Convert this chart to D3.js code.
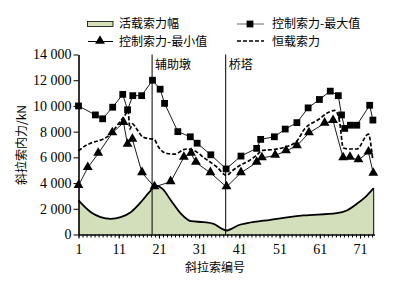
<!DOCTYPE html>
<html><head><meta charset="utf-8">
<script src="https://cdn.jsdelivr.net/npm/d3@7"></script>
<style>
html,body{margin:0;padding:0;background:#fff;}
svg{display:block;}
.num{font-family:"Liberation Serif","Times New Roman",serif;font-size:14px;}
.cjk{font-family:"Noto Sans CJK SC",sans-serif;font-size:12px;}
</style></head>
<body>
<svg id="chart" width="416" height="281"></svg>
<script>
// ---- data ----
const xTickValues = [1, 11, 21, 31, 41, 51, 61, 71];
const yTickValues = [0, 2000, 4000, 6000, 8000, 10000, 12000, 14000];

const liveCable = [1, 4, 6.5, 9, 11.5, 14, 16.5, 18.6, 20.2, 21.9, 24, 26.5, 29, 32.1, 34.6, 36.7, 37.9, 39, 40.6, 43, 48.7, 57, 65.2, 67.7, 70.2, 72.7, 74.4];
const liveValue = [2650, 1750, 1350, 1220, 1350, 1730, 2510, 3290, 3800, 3550, 2640, 1610, 1040, 960, 830, 440, 310, 440, 700, 880, 1140, 1480, 1660, 1870, 2390, 3030, 3600];

const maxCable = [1, 5.2, 7, 9.5, 12, 13.2, 14.5, 16.7, 19.4, 21.3, 22.4, 25.7, 28.8, 30.5, 33.9, 37.7, 41.4, 45.3, 46.3, 49.7, 52.4, 55.3, 58.1, 60.9, 63.6, 65.6, 66.4, 67.2, 68.6, 70.2, 73.4, 74.2];
const maxValue = [10000, 9300, 9000, 9900, 10900, 9700, 10800, 10800, 12000, 11300, 10200, 8000, 7600, 7100, 6200, 5100, 6100, 6700, 7400, 7600, 8200, 8700, 9850, 10500, 11150, 10800, 9300, 8250, 8500, 8500, 10050, 8900];

const minCable = [1, 3.3, 5.9, 9.4, 12.2, 13.2, 14.4, 16.8, 19.9, 23.9, 27.2, 29, 30.2, 33.8, 37.8, 41.4, 45.3, 46.6, 49.9, 52.6, 55.3, 58.3, 62.2, 64.3, 66.8, 68.5, 70.6, 73.1, 74.3];
const minValue = [3800, 5200, 6300, 7900, 8700, 7000, 7400, 4800, 3700, 4100, 6000, 6300, 5600, 4800, 3700, 4800, 5600, 5950, 6150, 6500, 6900, 7900, 8650, 8850, 5950, 6000, 5800, 6400, 4750];

const deadCable = [1, 2.7, 4, 7.3, 8.6, 9.8, 11.5, 12.8, 13.3, 13.8, 14.4, 15.7, 16.9, 18.6, 19.8, 20.9, 23, 25, 27.1, 28, 29.6, 32.5, 35.4, 37.8, 39.4, 41, 43.5, 45.2, 46.8, 49.3, 51.8, 55.1, 57.3, 60.5, 63.5, 64.7, 65.6, 66, 66.8, 68.3, 70.2, 73.1, 74.1];
const deadValue = [6500, 6900, 7100, 7450, 7700, 8150, 8850, 9400, 9650, 8200, 8600, 8100, 7600, 7450, 7400, 6800, 6300, 6250, 6600, 6650, 6550, 5900, 5250, 4600, 5000, 5350, 5750, 6150, 6550, 6600, 6750, 7200, 8250, 8900, 9550, 9650, 9250, 8600, 6750, 6650, 6650, 7800, 5950];

const markerLines = [{cable: 19.3, label: "辅助墩"}, {cable: 37.6, label: "桥塔"}];
const legendLabels = ["活载索力幅", "控制索力-最大值", "控制索力-最小值", "恒载索力"];
const xTitle = "斜拉索编号";
const yTitle = "斜拉索内力/kN";

// ---- drawing ----
const svg = d3.select("#chart");
svg.append("rect").attr("width", 416).attr("height", 281).attr("fill", "#fff");

const x = d3.scaleLinear().domain([1, 74.6]).range([78.5, 374.5]);
const y = d3.scaleLinear().domain([0, 14000]).range([234.5, 54.5]);

const zip = (a, b) => a.map((c, i) => [c, b[i]]);
const live = zip(liveCable, liveValue);
const maxS = zip(maxCable, maxValue);
const minS = zip(minCable, minValue);
const dead = zip(deadCable, deadValue);

// area
svg.append("path").datum(live)
  .attr("d", d3.area().x(d => x(d[0])).y0(y(0)).y1(d => y(d[1])).curve(d3.curveMonotoneX))
  .attr("fill", "#d3dfbb");
svg.append("path").datum(live)
  .attr("d", d3.line().x(d => x(d[0])).y(d => y(d[1])).curve(d3.curveMonotoneX))
  .attr("fill", "none").attr("stroke", "#000").attr("stroke-width", 1.8);
svg.append("line")
  .attr("x1", x(liveCable[liveCable.length - 1])).attr("x2", x(liveCable[liveCable.length - 1]))
  .attr("y1", y(liveValue[liveValue.length - 1])).attr("y2", y(0))
  .attr("stroke", "#000").attr("stroke-width", 1);

// vertical reference lines
markerLines.forEach(m => {
  svg.append("line").attr("x1", x(m.cable)).attr("x2", x(m.cable))
    .attr("y1", y(14000)).attr("y2", y(0)).attr("stroke", "#000").attr("stroke-width", 1);
  svg.append("text").attr("class", "cjk").attr("x", x(m.cable) + 3).attr("y", 69)
    .attr("font-size", "13.5px").text(m.label);
});

// dead load dashed
svg.append("path").datum(dead)
  .attr("d", d3.line().x(d => x(d[0])).y(d => y(d[1])).curve(d3.curveMonotoneX))
  .attr("fill", "none").attr("stroke", "#000").attr("stroke-width", 1.7)
  .attr("stroke-dasharray", "4,2");

// max / min lines
const ln = d3.line().x(d => x(d[0])).y(d => y(d[1]));
svg.append("path").datum(maxS).attr("d", ln).attr("fill", "none").attr("stroke", "#000").attr("stroke-width", 0.9);
svg.append("path").datum(minS).attr("d", ln).attr("fill", "none").attr("stroke", "#000").attr("stroke-width", 0.9);

const sq = d3.symbol().type(d3.symbolSquare).size(46);
const tri = d3.symbol().type(d3.symbolTriangle).size(42);
svg.selectAll(".sq").data(maxS).enter().append("path")
  .attr("d", sq).attr("transform", d => `translate(${x(d[0])},${y(d[1])})`).attr("fill", "#000");
svg.selectAll(".tri").data(minS).enter().append("path")
  .attr("d", tri).attr("transform", d => `translate(${x(d[0])},${y(d[1]) - 0.5})`).attr("fill", "#000");

// axes
const loc = d3.formatLocale({decimal: ".", thousands: " ", grouping: [3], currency: ["", ""]});
const fmt = loc.format(",");
const yAxis = svg.append("g").attr("transform", `translate(${x(1)},0)`)
  .call(d3.axisLeft(y).tickValues(yTickValues).tickFormat(fmt).tickSize(5).tickSizeOuter(0).tickPadding(2));
yAxis.selectAll("text").attr("class", "num").attr("fill", "#000").attr("font-size", null).attr("font-family", null);
yAxis.select(".domain").attr("stroke-width", 1.6);

const minorCables = d3.range(1, 75);
const xMinor = svg.append("g").attr("transform", `translate(0,${y(0)})`)
  .call(d3.axisBottom(x).tickValues(minorCables).tickFormat("").tickSize(3).tickSizeOuter(0));
xMinor.select(".domain").attr("stroke-width", 1.6);
const xAxis = svg.append("g").attr("transform", `translate(0,${y(0)})`)
  .call(d3.axisBottom(x).tickValues(xTickValues).tickSize(4).tickSizeOuter(0).tickPadding(6));
xAxis.select(".domain").remove();
xAxis.selectAll("text").attr("class", "num").attr("fill", "#000").attr("font-size", null).attr("font-family", null);

// axis titles
svg.append("text").attr("class", "cjk").attr("font-size", "14px")
  .attr("x", 215).attr("y", 272).attr("text-anchor", "middle").text(xTitle);
svg.append("text").attr("class", "cjk").attr("font-size", "14px")
  .attr("transform", "translate(26,145) rotate(-90)").attr("text-anchor", "middle").text(yTitle);

// legend
const lg = svg.append("g");
lg.append("rect").attr("x", 87.5).attr("y", 21.5).attr("width", 25.5).attr("height", 5)
  .attr("fill", "#d3dfbb").attr("stroke", "#000").attr("stroke-width", 0.8);
lg.append("text").attr("class", "cjk").attr("x", 119).attr("y", 28).text(legendLabels[0]);

lg.append("line").attr("x1", 237).attr("x2", 264).attr("y1", 24).attr("y2", 24).attr("stroke", "#666").attr("stroke-width", 1);
lg.append("path").attr("d", sq).attr("transform", "translate(250,24)").attr("fill", "#000");
lg.append("text").attr("class", "cjk").attr("x", 272).attr("y", 28).text(legendLabels[1]);

lg.append("line").attr("x1", 88).attr("x2", 113).attr("y1", 41.5).attr("y2", 41.5).attr("stroke", "#000").attr("stroke-width", 1);
lg.append("path").attr("d", tri).attr("transform", "translate(100,41)").attr("fill", "#000");
lg.append("text").attr("class", "cjk").attr("x", 119).attr("y", 46).text(legendLabels[2]);

lg.append("line").attr("x1", 237).attr("x2", 264).attr("y1", 41).attr("y2", 41).attr("stroke", "#000").attr("stroke-width", 1.7).attr("stroke-dasharray", "4,2");
lg.append("text").attr("class", "cjk").attr("x", 272).attr("y", 46).text(legendLabels[3]);
</script>
</body></html>
